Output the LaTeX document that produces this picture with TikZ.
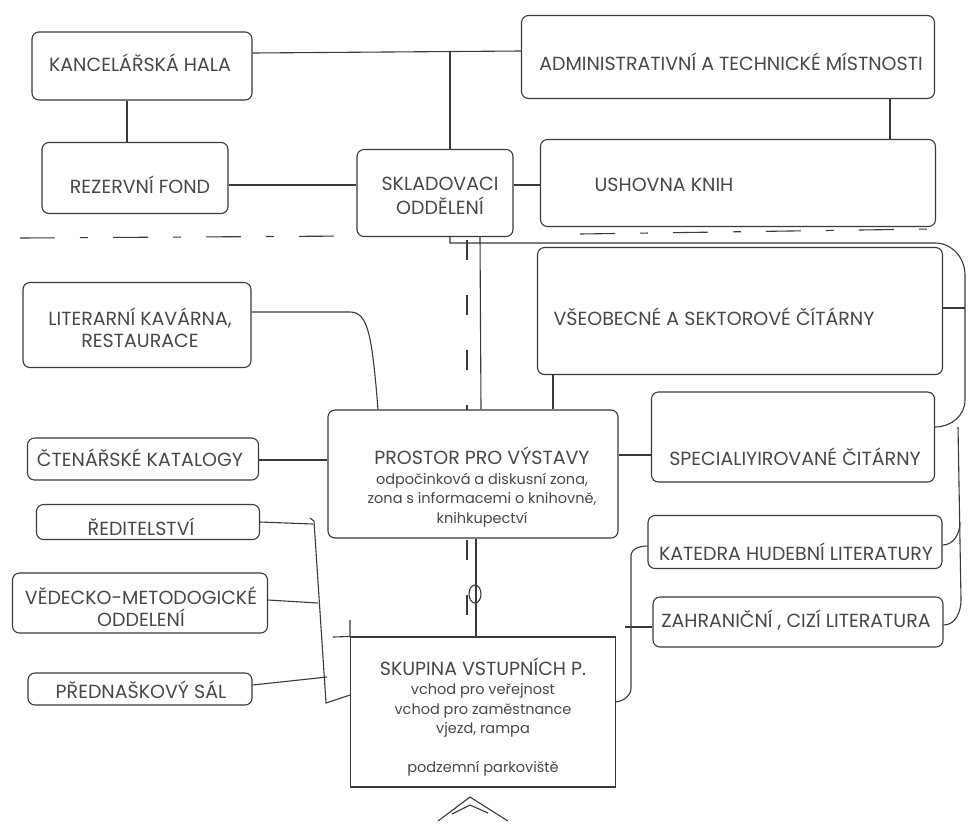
\documentclass[tikz,border=0pt]{standalone}
\usepackage{fontspec}
\setmainfont{Poppins}
\usetikzlibrary{calc}
\definecolor{linec}{HTML}{3A3A3A}
\definecolor{textc}{HTML}{484848}
\newcommand\capsf{\fontsize{19}{22}\selectfont}
\newcommand\subsf{\fontsize{14.5}{19.5}\selectfont}
\tikzset{
  box/.style={draw=linec, line width=1.1pt, rounded corners=7pt, inner sep=0pt, text=textc, align=center, font=\capsf},
  conn/.style={draw=linec, line width=1.1pt},
  lbl/.style={text=textc, align=center, inner sep=0pt, font=\capsf},
  bound/.style={draw=linec, line width=1.1pt, dash pattern=on 35pt off 25pt on 8pt off 25pt},
  vbound/.style={draw=linec, line width=1.1pt, dash pattern=on 20pt off 35pt},
}
\begin{document}
\begin{tikzpicture}[x=1pt,y=-1pt]
\useasboundingbox (0,0) rectangle (968,823);
\fill[white] (0,0) rectangle (968,823);

% boxes
\node[box, minimum width=220pt, minimum height=68pt] (kh) at (142,66) {};
\node[lbl] (kht) at (140,63) {KANCELÁŘSKÁ HALA};
\node[box, minimum width=413pt, minimum height=83pt] (admin) at (728,57) {};
\node[lbl] (admint) at (731,62) {ADMINISTRATIVNÍ A TECHNICKÉ MÍSTNOSTI};
\node[box, minimum width=186pt, minimum height=71pt] (rez) at (135,178) {};
\node[lbl] (rezt) at (140,185) {REZERVNÍ FOND};
\node[box, minimum width=156pt, minimum height=87pt] (sklad) at (435,193) {};
\node[lbl] (skladt) at (440,196) {SKLADOVACI\\[2pt]ODDĚLENÍ};
\node[box, minimum width=395pt, minimum height=87pt] (ush) at (738,183) {};
\node[lbl] (usht) at (664,185) {USHOVNA KNIH};
\node[box, minimum width=405pt, minimum height=127pt] (vseo) at (740,311) {};
\node[lbl] (vseot) at (714,317) {VŠEOBECNÉ A SEKTOROVÉ ČÍTÁRNY};
\node[box, minimum width=228pt, minimum height=85pt] (lit) at (137,325) {};
\node[lbl] (litt) at (140,328) {LITERARNÍ KAVÁRNA,\\RESTAURACE};
\node[box, minimum width=231pt, minimum height=42pt] (cten) at (143,459) {};
\node[lbl] (ctent) at (140,458) {ČTENÁŘSKÉ KATALOGY};
\node[box, minimum width=290pt, minimum height=128pt] (prostor) at (473,474) {};
\node[lbl, font=\subsf] (prostort) at (482,487) {{\capsf PROSTOR PRO VÝSTAVY}\\odpočinková a diskusní zona,\\zona s informacemi o knihovně,\\knihkupectví};
\node[box, minimum width=283pt, minimum height=90pt] (spec) at (793,437) {};
\node[lbl] (spect) at (795,457) {SPECIALIYIROVANÉ ČITÁRNY};
\node[box, minimum width=294pt, minimum height=53pt] (kat) at (795,542) {};
\node[lbl] (katt) at (796,552) {KATEDRA HUDEBNÍ LITERATURY};
\node[box, minimum width=290pt, minimum height=50pt] (zahr) at (798,622) {};
\node[lbl] (zahrt) at (796,620) {ZAHRANIČNÍ , CIZÍ LITERATURA};
\node[box, minimum width=223pt, minimum height=35pt] (red) at (148,522) {};
\node[lbl] (redt) at (141,527) {ŘEDITELSTVÍ};
\node[box, minimum width=255pt, minimum height=60pt] (ved) at (140,603) {};
\node[lbl] (vedt) at (141,607) {VĚDECKO-METODOGICKÉ\\ODDELENÍ};
\node[box, minimum width=224pt, minimum height=32pt] (pred) at (140,689) {};
\node[lbl] (predt) at (141,690) {PŘEDNAŠKOVÝ SÁL};
\node[box, sharp corners, minimum width=265pt, minimum height=150pt] (skup) at (483,712) {};
\node[lbl, font=\subsf] (skupt) at (483,717) {{\capsf SKUPINA VSTUPNÍCH P.}\\vchod pro veřejnost\\vchod pro zaměstnance\\vjezd, rampa\\[19.5pt]podzemní parkoviště};

% connectors top
\draw[conn] (kh.east |- 0,53) -- (admin.west |- 0,51);
\coordinate (j1) at (450,52);
\draw[conn] (j1) -- (j1 |- sklad.north);
\draw[conn] (kh.south -| 127,0) -- (rez.north -| 127,0);
\draw[conn] (rez.east |- 0,185) -- (sklad.west |- 0,185);
\draw[conn] (sklad.east |- 0,185) -- (ush.west |- 0,185);
\draw[conn] (admin.south -| 890,0) -- (ush.north -| 890,0);

% right brackets
\draw[conn] (sklad.south -| 450,0) -- (450,243) -- (935,243) to[out=0,in=90] (965,275) -- (965,400) to[out=-90,in=0] (spec.east |- 0,427);
\draw[conn] (vseo.east |- 0,308) -- (965,308);
\draw[conn] (958,427) -- (961,600) to[out=-90,in=0] (zahr.east |- 0,625);
\draw[conn] (960,522) to[out=-90,in=0] (kat.east |- 0,545);

% middle
\draw[conn] (sklad.south -| 480,0) -- (prostor.north -| 481,0);
\draw[conn] (vseo.south -| 553,0) -- (prostor.north -| 553,0);
\draw[conn] (lit.east |- 0,312) -- (350,312) .. controls (368,312) and (372,335) .. (prostor.north -| 378,0);
\draw[conn] (cten.east |- 0,460) -- (prostor.west |- 0,460);
\draw[conn] (prostor.east |- 0,455) -- (spec.west |- 0,455);
\draw[conn] (prostor.south -| 476,0) -- (skup.north -| 476,0);
\draw[conn] (475,594) ellipse (6pt and 9pt);

% left bracket
\draw[conn] (red.east |- 0,522) -- (313,524);
\draw[conn] (310,518) -- (314,521) -- (326,703) -- (skup.west |- 0,695);
\draw[conn] (ved.east |- 0,600) -- (318,603);
\draw[conn] (pred.east |- 0,685) -- (327,677);
\draw[conn] (333,637) -- (skup.north west) -- (350,620);

% right of skup
\draw[conn] (skup.east |- 0,702) to[out=10,in=-90] (631,688) -- (631,556) to[out=90,in=180] (kat.west |- 0,546);
\draw[conn] (zahr.west |- 0,627) -- (625,627);

% boundaries
\draw[bound] (20,238) -- (355,236);
\draw[bound] (580,234) -- (930,229);
\draw[vbound] (467,240) -- (467,410);
\draw[vbound] (467,540) -- (467,640);

% entrance symbol
\draw[conn] (438,821) -- (470,797) -- (508,821);
\draw[conn] (452,814) -- (470,805) -- (488,813);
\end{tikzpicture}
\end{document}
